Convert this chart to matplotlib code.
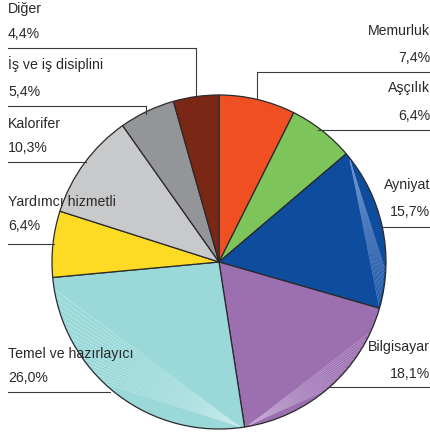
import matplotlib
matplotlib.use("Agg")
import matplotlib.pyplot as plt
import numpy as np

# slice data, clockwise from the top
categories = ["Memurluk", "Aşçılık", "Ayniyat", "Bilgisayar", "Temel ve hazırlayıcı",
              "Yardımcı hizmetli", "Kalorifer", "İş ve iş disiplini", "Diğer"]
shares = [7.4, 6.4, 15.7, 18.1, 26.0, 6.4, 10.3, 5.4, 4.4]
colors = ["#F04E23", "#7DC45A", "#0E4C9E", "#9B6FB0", "#9AD8D9",
          "#FDDB25", "#C8C9CB", "#939598", "#7A2715"]
# lighter streaks near the rim (decoration of the original artwork)
streaks = {"Ayniyat": "#6b93cc", "Bilgisayar": "#c6a9d6", "Temel ve hazırlayıcı": "#c8ecec"}

W, H = 431, 434
fig = plt.figure(figsize=(W / 100, H / 100), dpi=100)
ax = fig.add_axes([0, 0, 1, 1])

cx, cy, R = 219, H - 262, 167
wedges, _ = ax.pie(shares, colors=colors, startangle=90, counterclock=False,
                   center=(cx, cy), radius=R, frame=True,
                   wedgeprops=dict(edgecolor="#2a2a2a", linewidth=0.9))
ax.set_xlim(0, W)
ax.set_ylim(0, H)
ax.axis("off")

def arc_pt(a):
    r = R - 1.5
    return cx + r * np.cos(np.radians(a)), cy + r * np.sin(np.radians(a))

for w, name in zip(wedges, categories):
    if name not in streaks:
        continue
    t1, t2 = w.theta1, w.theta2  # t1 is the lower angle
    span = t2 - t1
    if name == "Ayniyat":
        a0 = t2 - 0.05 * span
        targets = np.linspace(t1 + 0.02 * span, t1 + 0.25 * span, 12)
    elif name == "Bilgisayar":
        a0 = t1 + 0.03 * span
        targets = np.linspace(t2 - 0.15 * span, t2 - 0.55 * span, 14)
    else:
        a0 = t2 - 0.02 * span
        targets = np.linspace(t1 + 0.05 * span, t1 + 0.45 * span, 18)
    x0, y0 = arc_pt(a0)
    for a in targets:
        x1, y1 = arc_pt(a)
        ax.plot([x0, x1], [y0, y1], color=streaks[name], lw=0.5, alpha=0.8, zorder=3)

plt.rcParams["font.family"] = "Liberation Sans"
fs = 10.2
tc = "#2b2829"

# label layout: (name y, value y, line y, line x end, elbow target y or None), pixel coords
left = {
    "Diğer": (9, 34, 48, 196, 95),
    "İş ve iş disiplini": (64, 92, 106, 146, 114),
    "Kalorifer": (124, 148, 162, 86, None),
    "Yardımcı hizmetli": (202, 226, 244, 54, None),
    "Temel ve hazırlayıcı": (354, 378, 392, 110, None),
}
right = {
    "Memurluk": (31, 58, 72, 257, 98),
    "Aşçılık": (88, 116, 130, 318, None),
    "Ayniyat": (185, 212, 227, 383, None),
    "Bilgisayar": (347, 374, 387, 330, None),
}

def fmt(v):
    return f"{v:.1f}".replace(".", ",") + "%"

for name, val in zip(categories, shares):
    if name in left:
        ny, vy, ly, lx, ey = left[name]
        ax.text(8, H - ny, name, fontsize=fs, color=tc, ha="left", va="center", zorder=5)
        ax.text(8, H - vy, fmt(val), fontsize=fs, color=tc, ha="left", va="center", zorder=5)
        ax.plot([8, lx], [H - ly, H - ly], color="#3a3a3a", lw=0.8, zorder=4)
        if ey is not None:
            ax.plot([lx, lx], [H - ly, H - ey], color="#3a3a3a", lw=0.8, zorder=4)
    else:
        ny, vy, ly, lx, ey = right[name]
        ax.text(430, H - ny, name, fontsize=fs, color=tc, ha="right", va="center", zorder=5)
        ax.text(430, H - vy, fmt(val), fontsize=fs, color=tc, ha="right", va="center", zorder=5)
        ax.plot([lx, 431], [H - ly, H - ly], color="#3a3a3a", lw=0.8, zorder=4)
        if ey is not None:
            ax.plot([lx, lx], [H - ly, H - ey], color="#3a3a3a", lw=0.8, zorder=4)

fig.savefig("out.png", dpi=100)
